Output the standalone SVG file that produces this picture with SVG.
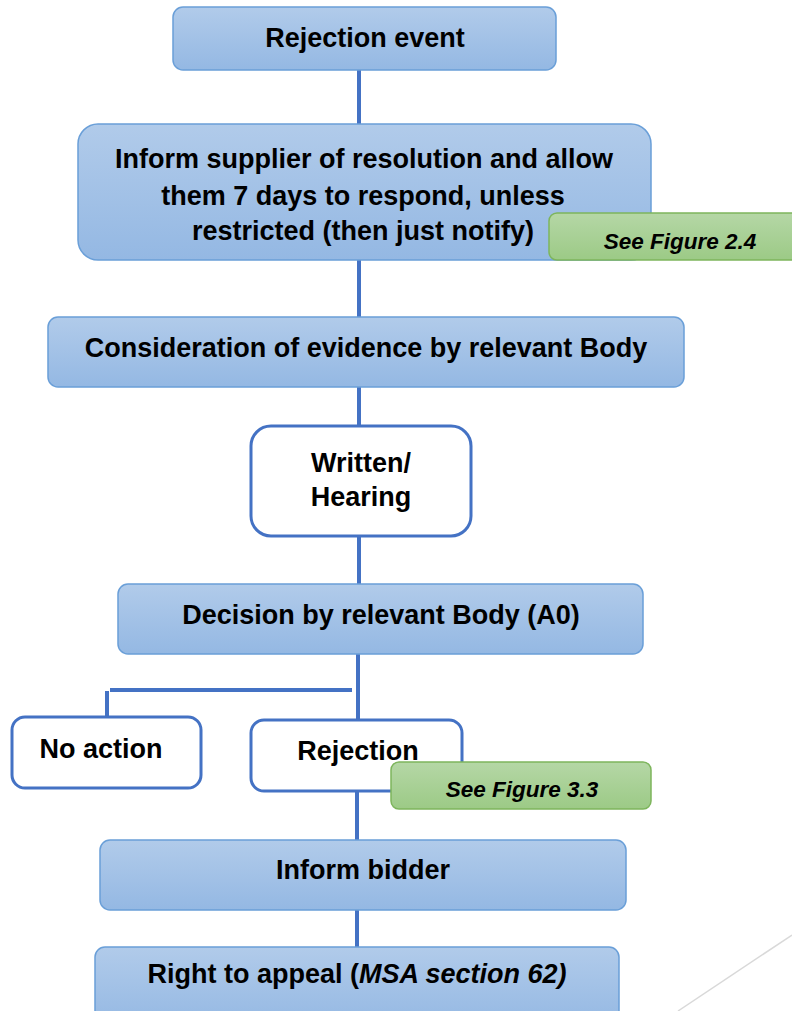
<svg xmlns="http://www.w3.org/2000/svg" width="792" height="1011" viewBox="0 0 792 1011">
<defs>
<linearGradient id="blueG" x1="0" y1="0" x2="0" y2="1">
<stop offset="0" stop-color="#B1CBEA"/>
<stop offset="1" stop-color="#94B8E3"/>
</linearGradient>
<linearGradient id="greenG" x1="0" y1="0" x2="0" y2="1">
<stop offset="0" stop-color="#B5D7A6"/>
<stop offset="1" stop-color="#9CCA86"/>
</linearGradient>
</defs>
<style>
.blue{fill:url(#blueG);stroke:#6A9FD8;stroke-width:1.5}
.white{fill:#FFFFFF;stroke:#4472C4;stroke-width:3}
.green{fill:url(#greenG);stroke:#7DB55C;stroke-width:1.5}
.conn{stroke:#4472C4;stroke-width:4;fill:none}
.t{font-family:"Liberation Sans",Arial,sans-serif;font-weight:bold;font-size:27px;fill:#000;text-anchor:middle}
.ti{font-family:"Liberation Sans",Arial,sans-serif;font-weight:bold;font-style:italic;font-size:22.5px;fill:#000;text-anchor:middle}
</style>
<rect width="792" height="1011" fill="#FFFFFF"/>
<line x1="792" y1="935" x2="678" y2="1011" stroke="#D9D9D9" stroke-width="1.5"/>
<g id="connectors">
<line class="conn" x1="359" y1="70" x2="359" y2="124"/>
<line class="conn" x1="359" y1="260" x2="359" y2="317"/>
<line class="conn" x1="359" y1="387" x2="359" y2="426"/>
<line class="conn" x1="359" y1="536" x2="359" y2="584"/>
<line class="conn" x1="358" y1="654" x2="358" y2="720"/>
<line class="conn" x1="110" y1="690" x2="352" y2="690"/>
<line class="conn" x1="107" y1="691" x2="107" y2="717"/>
<line class="conn" x1="357" y1="791" x2="357" y2="840"/>
<line class="conn" x1="357" y1="910" x2="357" y2="947"/>
</g>
<g id="rejection-event">
<rect class="blue" x="173" y="7" width="383" height="63" rx="10"/>
<text class="t" x="365" y="47">Rejection event</text>
</g>
<g id="inform-supplier">
<rect class="blue" x="78" y="124" width="573" height="136" rx="20"/>
<text class="t" x="364" y="168">Inform supplier of resolution and allow</text>
<text class="t" x="363" y="205">them 7 days to respond, unless</text>
<text class="t" x="363" y="240">restricted (then just notify)</text>
</g>
<g id="see-figure-2-4">
<rect class="green" x="549" y="213" width="262" height="47" rx="8"/>
<text class="ti" x="680" y="249">See Figure 2.4</text>
</g>
<g id="consideration">
<rect class="blue" x="48" y="317" width="636" height="70" rx="10"/>
<text class="t" x="366" y="357">Consideration of evidence by relevant Body</text>
</g>
<g id="written-hearing">
<rect class="white" x="251" y="426" width="220" height="110" rx="20"/>
<text class="t" x="361" y="472">Written/</text>
<text class="t" x="361" y="506">Hearing</text>
</g>
<g id="decision">
<rect class="blue" x="118" y="584" width="525" height="70" rx="10"/>
<text class="t" x="381" y="624">Decision by relevant Body (A0)</text>
</g>
<g id="no-action">
<rect class="white" x="12" y="717" width="189" height="71" rx="13"/>
<text class="t" x="101" y="758">No action</text>
</g>
<g id="rejection">
<rect class="white" x="251" y="720" width="211" height="71" rx="13"/>
<text class="t" x="358" y="760">Rejection</text>
</g>
<g id="see-figure-3-3">
<rect class="green" x="391" y="762" width="260" height="47" rx="8"/>
<text class="ti" x="522" y="797">See Figure 3.3</text>
</g>
<g id="inform-bidder">
<rect class="blue" x="100" y="840" width="526" height="70" rx="10"/>
<text class="t" x="363" y="879">Inform bidder</text>
</g>
<g id="right-to-appeal">
<rect class="blue" x="95" y="947" width="524" height="80" rx="10"/>
<text class="t" x="357" y="983">Right to appeal (<tspan font-style="italic">MSA section 62)</tspan></text>
</g>
</svg>
